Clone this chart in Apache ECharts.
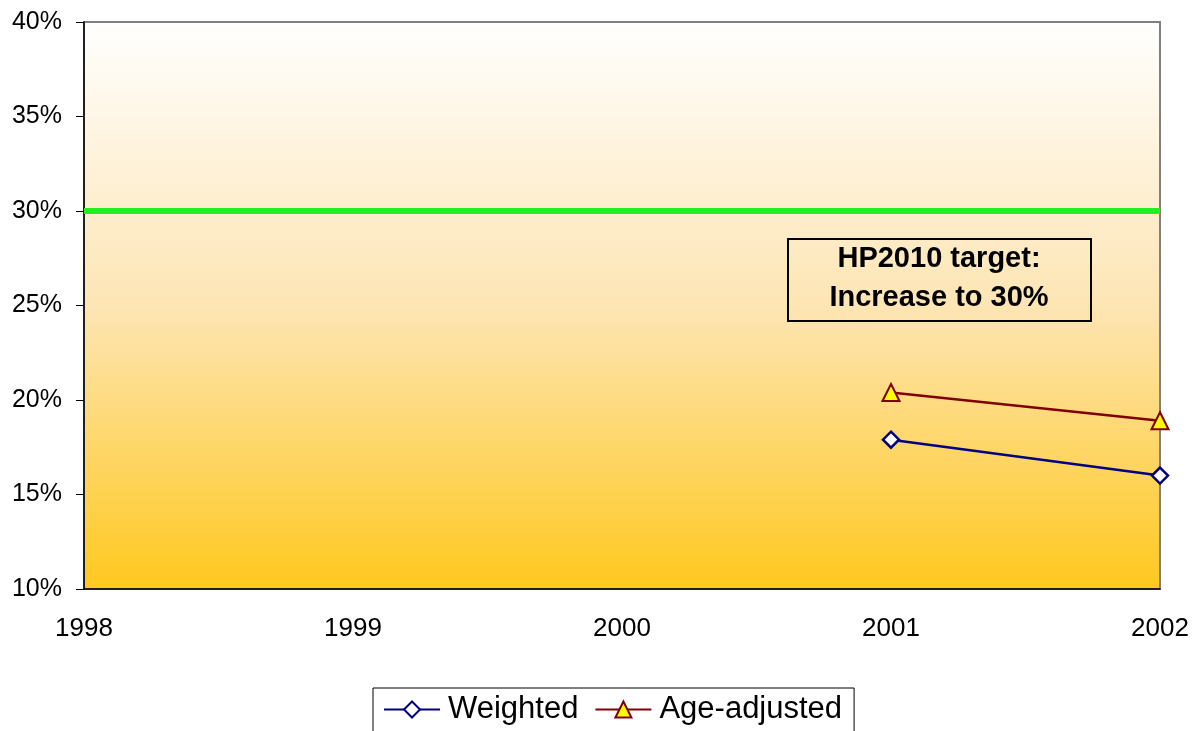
<!DOCTYPE html>
<html>
<head>
<meta charset="utf-8">
<script src="https://cdn.jsdelivr.net/npm/echarts@6/dist/echarts.min.js"></script>
<style>html,body{margin:0;padding:0;background:#fff;}#chart{width:1193px;height:731px;}</style>
</head>
<body>
<div id="chart"></div>
<script>
const years = [1998, 1999, 2000, 2001, 2002];
const weighted = [[2001, 17.9], [2002, 16.0]];
const ageAdjusted = [[2001, 20.4], [2002, 18.9]];
const target = [[1998, 30], [2002, 30]];
const yTicks = [10, 15, 20, 25, 30, 35, 40];
const annotation = ['HP2010 target:', 'Increase to 30%'];

const chart = echarts.init(document.getElementById('chart'));
const FONT = 'Liberation Sans, Arial, sans-serif';
chart.setOption({
  animation: false,
  grid: {
    left: 84, right: 33, top: 22, bottom: 142, show: true,
    borderColor: '#808080', borderWidth: 2,
    backgroundColor: new echarts.graphic.LinearGradient(0, 0, 0, 1, [
      {offset: 0, color: '#FFFFFF'},
      {offset: 0.5, color: '#FDE5B4'},
      {offset: 1, color: '#FFC81E'}
    ])
  },
  xAxis: {
    type: 'value', min: years[0], max: years[years.length - 1], interval: 1,
    axisLine: {show: true, lineStyle: {color: '#000', width: 1.5}},
    axisTick: {show: false},
    splitLine: {show: false},
    axisLabel: {fontFamily: FONT, fontSize: 26, color: '#000', margin: 27, formatter: v => String(v)}
  },
  yAxis: {
    type: 'value', min: yTicks[0], max: yTicks[yTicks.length - 1], interval: 5,
    axisLine: {show: true, lineStyle: {color: '#000', width: 1.5}},
    axisTick: {show: true, length: 8, lineStyle: {color: '#000'}},
    splitLine: {show: false},
    axisLabel: {fontFamily: FONT, fontSize: 25, color: '#000', margin: 22, formatter: v => v + '%'}
  },
  legend: {
    data: ['Weighted', 'Age-adjusted'],
    top: 688, left: 373,
    borderColor: '#000', borderWidth: 1, padding: [6, 12, 20, 10],
    itemWidth: 56, itemHeight: 20, itemGap: 16,
    textStyle: {fontFamily: FONT, fontSize: 31, color: '#000', padding: [0, 0, 0, 3]}
  },
  series: [
    {
      name: 'Target', type: 'line', data: target, symbol: 'none',
      lineStyle: {color: '#22EE22', width: 6}, z: 2
    },
    {
      name: 'Weighted', type: 'line', data: weighted,
      symbol: 'diamond', symbolSize: 16,
      lineStyle: {color: '#000080', width: 2.5},
      itemStyle: {color: '#FFFFFF', borderColor: '#000080', borderWidth: 2.5}, z: 3
    },
    {
      name: 'Age-adjusted', type: 'line', data: ageAdjusted,
      symbol: 'triangle', symbolSize: 17,
      lineStyle: {color: '#800000', width: 2.5},
      itemStyle: {color: '#FFFF00', borderColor: '#800000', borderWidth: 2}, z: 3
    }
  ],
  graphic: [
    {
      type: 'rect', left: 787, top: 238, z: 10,
      shape: {width: 303, height: 82},
      style: {fill: 'rgba(0,0,0,0)', stroke: '#000', lineWidth: 2}
    },
    {
      type: 'text', z: 11, x: 939, y: 259,
      style: {
        text: annotation[0], align: 'center', verticalAlign: 'middle',
        font: 'bold 29px ' + FONT, fill: '#000'
      }
    },
    {
      type: 'text', z: 11, x: 939, y: 298,
      style: {
        text: annotation[1], align: 'center', verticalAlign: 'middle',
        font: 'bold 29px ' + FONT, fill: '#000'
      }
    }
  ]
});
</script>
</body>
</html>
